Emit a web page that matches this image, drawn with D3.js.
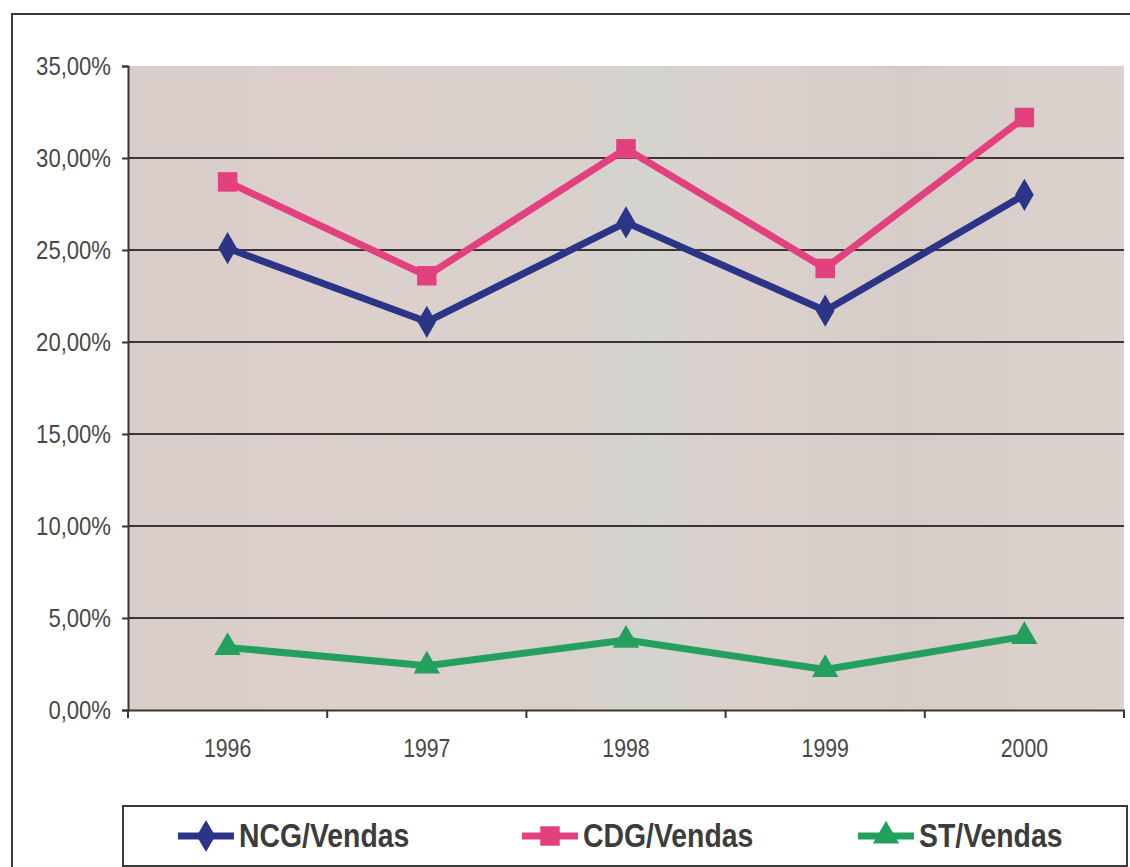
<!DOCTYPE html>
<html>
<head>
<meta charset="utf-8">
<script src="https://cdn.jsdelivr.net/npm/d3@7"></script>
<style>
  html, body { margin: 0; padding: 0; background: #ffffff; }
  svg { display: block; }
  .tick text { font-family: "Liberation Sans", Arial, sans-serif; }
</style>
</head>
<body>
<svg id="chart" width="1130" height="867"></svg>
<script>
// Ratios over sales, 1996–2000
const years = ["1996", "1997", "1998", "1999", "2000"];
const ncgVendas = [25.1, 21.1, 26.5, 21.7, 28.0];
const cdgVendas = [28.7, 23.6, 30.5, 24.0, 32.2];
const stVendas  = [3.4, 2.4, 3.8, 2.2, 4.0];
const yTicks = [0, 5, 10, 15, 20, 25, 30, 35];
const seriesNames = ["NCG/Vendas", "CDG/Vendas", "ST/Vendas"];

const series = [
  { name: seriesNames[0], values: ncgVendas, color: "#2c3487", symbol: d3.symbolDiamond, size: 300 },
  { name: seriesNames[1], values: cdgVendas, color: "#e2407e", symbol: d3.symbolSquare, size: 380 },
  { name: seriesNames[2], values: stVendas,  color: "#23a05e", symbol: d3.symbolTriangle, size: 300 }
];

const svg = d3.select("#chart");
const plot = { left: 128, top: 66, right: 1124, bottom: 710 };
const condensed = "scale(0.85,1)";

// Outer frame
svg.append("rect")
  .attr("x", 12).attr("y", 14).attr("width", 1140).attr("height", 900)
  .attr("fill", "none").attr("stroke", "#3a3a3a").attr("stroke-width", 2);

const x = d3.scaleBand().domain(years).range([plot.left, plot.right]);
const y = d3.scaleLinear().domain([0, 35]).range([plot.bottom, plot.top]);

// Plot area background with soft vertical tint variation
const defs = svg.append("defs");
const grad = defs.append("linearGradient").attr("id", "bg").attr("x1", "0").attr("x2", "1").attr("y1", "0").attr("y2", "0");
[["0%", "#d8cdc9"], ["20%", "#ddd0cc"], ["45%", "#d8d0cb"], ["52%", "#d4d4cf"], ["62%", "#dbd0cc"], ["78%", "#d6cdc9"], ["100%", "#dcd2cd"]]
  .forEach(([o, c]) => grad.append("stop").attr("offset", o).attr("stop-color", c));

svg.append("rect")
  .attr("x", plot.left).attr("y", plot.top)
  .attr("width", plot.right - plot.left).attr("height", plot.bottom - plot.top)
  .attr("fill", "url(#bg)");

// Horizontal gridlines
svg.append("g")
  .selectAll("line")
  .data(yTicks.filter(t => t > 0 && t < 35))
  .join("line")
  .attr("x1", plot.left).attr("x2", plot.right)
  .attr("y1", d => y(d)).attr("y2", d => y(d))
  .attr("stroke", "#3b3633").attr("stroke-width", 2);

// Y axis
const yAxis = svg.append("g")
  .attr("transform", `translate(${plot.left},0)`)
  .call(d3.axisLeft(y).tickValues(yTicks).tickSize(6).tickPadding(14)
    .tickFormat(d => d3.format(".2f")(d).replace(".", ",") + "%"));
yAxis.select(".domain").attr("stroke", "#3b3633").attr("stroke-width", 2);
yAxis.selectAll(".tick line").attr("stroke", "#3b3633").attr("stroke-width", 2);
yAxis.selectAll(".tick text").attr("font-size", 26).attr("fill", "#484848")
  .attr("transform", condensed);

// X axis
const xAxis = svg.append("g")
  .attr("transform", `translate(0,${plot.bottom})`)
  .call(d3.axisBottom(x).tickSize(0).tickPadding(29));
xAxis.select(".domain").attr("stroke", "#3b3633").attr("stroke-width", 2);
xAxis.selectAll(".tick text").attr("font-size", 25).attr("fill", "#484848")
  .attr("transform", condensed);

// Category separators on the x axis
svg.append("g")
  .selectAll("line")
  .data(years.map(d => x(d)).concat([plot.right]))
  .join("line")
  .attr("x1", d => d).attr("x2", d => d)
  .attr("y1", plot.bottom).attr("y2", plot.bottom + 8)
  .attr("stroke", "#3b3633").attr("stroke-width", 2);

const cx = d => x(d) + x.bandwidth() / 2;
const line = d3.line().x((d, i) => cx(years[i])).y(d => y(d));

series.forEach(s => {
  svg.append("path")
    .datum(s.values)
    .attr("d", line)
    .attr("fill", "none")
    .attr("stroke", s.color)
    .attr("stroke-width", 7)
    .attr("stroke-linejoin", "round");
  svg.append("g")
    .selectAll("path")
    .data(s.values)
    .join("path")
    .attr("transform", (d, i) => `translate(${cx(years[i])},${y(d)})`)
    .attr("d", d3.symbol().type(s.symbol).size(s.size))
    .attr("fill", s.color);
});

// Legend
const legend = svg.append("g");
legend.append("rect")
  .attr("x", 123).attr("y", 806).attr("width", 1004).attr("height", 60)
  .attr("fill", "#ffffff").attr("stroke", "#3a3a3a").attr("stroke-width", 2);

const legendX = [178, 522, 858];
series.forEach((s, i) => {
  const g = legend.append("g").attr("transform", `translate(${legendX[i]},836)`);
  g.append("line").attr("x1", 0).attr("x2", 56).attr("y1", 0).attr("y2", 0)
    .attr("stroke", s.color).attr("stroke-width", 7);
  g.append("path").attr("transform", "translate(28,0)")
    .attr("d", d3.symbol().type(s.symbol).size(s.size)).attr("fill", s.color);
  g.append("text").attr("transform", "translate(61,11) scale(0.86,1)")
    .attr("font-family", "'Liberation Sans', Arial, sans-serif")
    .attr("font-weight", "bold").attr("font-size", 33).attr("fill", "#3c3c3c")
    .text(s.name);
});
</script>
</body>
</html>
